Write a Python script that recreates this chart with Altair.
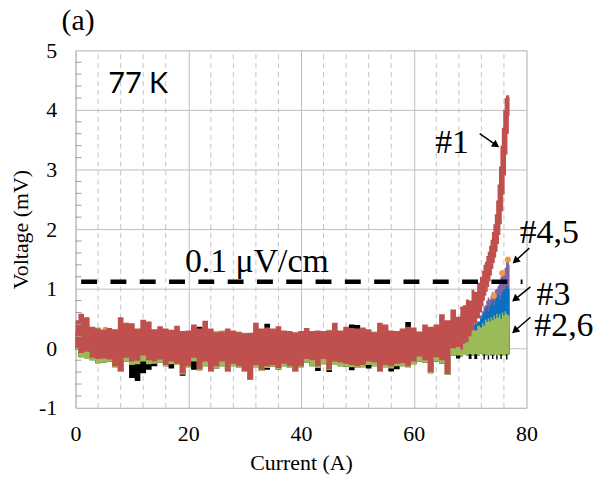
import math
import altair as alt
import pandas as pd

# ---------------- data ----------------
current = [0, 1, 2, 3, 4, 5, 6, 7, 8, 9,
           10, 11, 12, 13, 14, 15, 16, 17, 18, 19,
           20, 21, 22, 23, 24, 25, 26, 27, 28, 29,
           30, 31, 32, 33, 34, 35, 36, 37, 38, 39,
           40, 41, 42, 43, 44, 45, 46, 47, 48, 49,
           50, 51, 52, 53, 54, 55, 56, 57, 58, 59,
           60, 61, 62, 63, 64, 65, 66, 67, 68,
           68.5, 69, 69.5, 70, 70.5, 71, 71.5, 72,
           72.25, 72.5, 72.75, 73, 73.25, 73.5, 73.75, 74, 74.25, 74.5,
           74.75, 75, 75.25, 75.5, 75.75, 76, 76.25, 76.5, 76.75, 77]

red_hi = [0.47, 0.58, 0.52, 0.36, 0.33, 0.31, 0.34, 0.32, 0.52, 0.43,
          0.42, 0.33, 0.48, 0.45, 0.32, 0.37, 0.33, 0.31, 0.38, 0.29,
          0.30, 0.40, 0.33, 0.46, 0.33, 0.27, 0.28, 0.33, 0.30, 0.27,
          0.25, 0.26, 0.43, 0.33, 0.35, 0.33, 0.37, 0.30, 0.29, 0.27,
          0.29, 0.34, 0.29, 0.30, 0.29, 0.30, 0.43, 0.30, 0.36, 0.34,
          0.33, 0.35, 0.32, 0.27, 0.43, 0.40, 0.30, 0.29, 0.33, 0.36,
          0.35, 0.28, 0.40, 0.36, 0.40, 0.57, 0.47, 0.65, 0.53,
          0.70, 0.72, 0.82, 0.80, 0.98, 0.95, 1.10, 1.20,
          1.30, 1.40, 1.45, 1.55, 1.62, 1.72, 1.82, 1.95, 2.08, 2.25,
          2.48, 2.75, 3.05, 3.40, 3.70, 4.00, 4.20, 4.24, 4.25, 4.22]
red_lo = [0.01, -0.08, -0.06, -0.16, -0.18, -0.17, -0.19, -0.30, -0.38, -0.16,
          -0.22, -0.21, -0.12, -0.20, -0.22, -0.19, -0.28, -0.22, -0.26, -0.42,
          -0.30, -0.16, -0.35, -0.22, -0.38, -0.30, -0.22, -0.38, -0.26, -0.30,
          -0.38, -0.52, -0.28, -0.36, -0.30, -0.28, -0.33, -0.26, -0.30, -0.38,
          -0.30, -0.18, -0.20, -0.30, -0.18, -0.35, -0.22, -0.24, -0.26, -0.28,
          -0.30, -0.28, -0.22, -0.24, -0.38, -0.28, -0.30, -0.26, -0.25, -0.30,
          -0.22, -0.14, -0.20, -0.40, -0.15, -0.20, -0.43, 0.00, 0.02,
          -0.02, 0.08, 0.10, 0.20, 0.30, 0.42, 0.50, 0.60,
          0.70, 0.80, 0.88, 0.95, 1.03, 1.12, 1.22, 1.33, 1.43, 1.52,
          1.62, 1.75, 1.90, 2.08, 2.30, 2.58, 2.90, 3.25, 3.60, 3.90]

green_hi = [0.30, 0.45, 0.40, 0.30, 0.35, 0.28, 0.26, 0.28, 0.30, 0.32,
            0.30, 0.28, 0.30, 0.30, 0.28, 0.30, 0.29, 0.28, 0.30, 0.27,
            0.26, 0.30, 0.30, 0.32, 0.30, 0.29, 0.30, 0.28, 0.27, 0.28,
            0.26, 0.24, 0.30, 0.29, 0.30, 0.28, 0.30, 0.27, 0.26, 0.25,
            0.26, 0.28, 0.27, 0.28, 0.27, 0.31, 0.30, 0.28, 0.30, 0.30,
            0.30, 0.30, 0.28, 0.28, 0.30, 0.32, 0.28, 0.27, 0.28, 0.30,
            0.30, 0.26, 0.30, 0.29, 0.30, 0.32, 0.25, 0.20, 0.22,
            0.22, 0.25, 0.22, 0.28, 0.32, 0.30, 0.38, 0.35,
            0.42, 0.38, 0.48, 0.44, 0.50, 0.45, 0.52, 0.47, 0.55, 0.50,
            0.58, 0.52, 0.57, 0.50, 0.60, 0.55, 0.62, 0.58, 0.56, 0.52]
green_lo = [-0.02, -0.15, -0.18, -0.20, -0.25, -0.24, -0.22, -0.32, -0.40, -0.22,
            -0.28, -0.27, -0.22, -0.27, -0.26, -0.24, -0.30, -0.27, -0.28, -0.44,
            -0.32, -0.22, -0.37, -0.30, -0.40, -0.34, -0.30, -0.40, -0.30, -0.33,
            -0.40, -0.53, -0.32, -0.38, -0.33, -0.31, -0.36, -0.30, -0.33, -0.40,
            -0.32, -0.24, -0.30, -0.33, -0.27, -0.37, -0.28, -0.30, -0.31, -0.32,
            -0.33, -0.32, -0.28, -0.30, -0.40, -0.32, -0.34, -0.30, -0.30, -0.32,
            -0.27, -0.22, -0.24, -0.42, -0.22, -0.26, -0.45, -0.12, -0.12,
            -0.14, -0.10, -0.12, -0.10, -0.13, -0.10, -0.12, -0.09,
            -0.12, -0.10, -0.13, -0.11, -0.12, -0.10, -0.13, -0.11, -0.12, -0.10,
            -0.12, -0.11, -0.13, -0.10, -0.12, -0.11, -0.12, -0.10, -0.11, -0.10]

black_hi = [0.25, 0.30, 0.30, 0.25, 0.24, 0.25, 0.24, 0.25, 0.26, 0.27,
            0.26, 0.25, 0.27, 0.26, 0.25, 0.26, 0.25, 0.24, 0.26, 0.25,
            0.24, 0.34, 0.36, 0.27, 0.26, 0.25, 0.26, 0.25, 0.24, 0.25,
            0.24, 0.23, 0.26, 0.27, 0.41, 0.26, 0.27, 0.25, 0.24, 0.24,
            0.25, 0.26, 0.25, 0.26, 0.25, 0.26, 0.27, 0.25, 0.27, 0.40,
            0.39, 0.27, 0.26, 0.25, 0.27, 0.28, 0.26, 0.25, 0.27, 0.44,
            0.27, 0.25, 0.26, 0.27, 0.26, 0.25, 0.22, 0.18, 0.18,
            0.18, 0.20, 0.18, 0.22, 0.22, 0.24, 0.25, 0.26,
            0.30, 0.28, 0.32, 0.30, 0.33, 0.30, 0.32, 0.30, 0.34, 0.30,
            0.33, 0.30, 0.34, 0.30, 0.33, 0.30, 0.32, 0.30, 0.30, 0.28]
black_lo = [-0.02, -0.15, -0.18, -0.20, -0.25, -0.24, -0.22, -0.32, -0.40, -0.22,
            -0.50, -0.55, -0.42, -0.36, -0.30, -0.24, -0.30, -0.34, -0.28, -0.46,
            -0.32, -0.36, -0.37, -0.30, -0.40, -0.34, -0.30, -0.40, -0.30, -0.33,
            -0.40, -0.53, -0.32, -0.38, -0.36, -0.31, -0.36, -0.30, -0.33, -0.40,
            -0.32, -0.24, -0.30, -0.38, -0.27, -0.40, -0.28, -0.30, -0.31, -0.37,
            -0.33, -0.32, -0.34, -0.30, -0.40, -0.32, -0.39, -0.35, -0.30, -0.32,
            -0.27, -0.22, -0.24, -0.42, -0.22, -0.26, -0.45, -0.12, -0.17,
            -0.14, -0.10, -0.12, -0.18, -0.13, -0.18, -0.12, -0.09,
            -0.12, -0.19, -0.13, -0.11, -0.19, -0.10, -0.13, -0.18, -0.12, -0.10,
            -0.19, -0.11, -0.13, -0.18, -0.12, -0.11, -0.12, -0.19, -0.11, -0.10]

current_end = [66, 67, 68, 69, 70, 70.5, 71, 71.5, 72,
               72.25, 72.5, 72.75, 73, 73.25, 73.5, 73.75, 74, 74.25, 74.5,
               74.75, 75, 75.25, 75.5, 75.75, 76, 76.25, 76.5, 76.75, 77]
blue_hi = [0.15, 0.20, 0.25, 0.30, 0.35, 0.38, 0.42, 0.45, 0.50,
           0.55, 0.60, 0.65, 0.70, 0.62, 0.70, 0.75, 0.80, 0.72, 0.80,
           0.85, 0.90, 0.82, 0.88, 0.95, 0.98, 1.00, 1.05, 1.02, 0.98]
purple_hi = [0.10, 0.15, 0.20, 0.25, 0.30, 0.33, 0.38, 0.42, 0.55,
             0.62, 0.70, 0.72, 0.80, 0.85, 0.82, 0.88, 0.95, 0.90, 0.98,
             1.00, 1.05, 1.10, 1.20, 1.22, 1.25, 1.35, 1.45, 1.48, 1.40]

orange_a = [5.3, 74.2, 75.7, 76.7]
orange_v = [0.31, 0.88, 1.26, 1.49]

criterion_a = [1.0]
criterion_a2 = [79.3]
criterion_v = [1.117]

label_text = ["0.1 \u03bcV/cm", "#1", "#4,5", "#3", "#2,6"]
label_a = [19.4, 63.8, 78.8, 81.8, 81.4]
label_v = [1.272, 3.283, 1.767, 0.733, 0.2]

arrow_a = [71.7, 80.5, 80.7, 80.7]
arrow_v = [3.60, 1.68, 1.03, 0.52]
arrow_a2 = [75.2, 77.5, 77.4, 77.4]
arrow_v2 = [3.37, 1.42, 0.78, 0.25]

minor_x = [4, 8, 12, 16, 24, 28, 32, 36, 44, 48, 52, 56, 64, 68, 72, 76]
minor_y = [-0.8, -0.6, -0.4, -0.2, 0.2, 0.4, 0.6, 0.8, 1.2, 1.4, 1.6, 1.8,
           2.2, 2.4, 2.6, 2.8, 3.2, 3.4, 3.6, 3.8, 4.2, 4.4, 4.6, 4.8]

# ---------------- chart ----------------
W, H = 454, 360
XMIN, XMAX, YMIN, YMAX = 0, 80, -1, 5
SERIF = "Liberation Serif"
GRID = "#BDBDBD"

x_scale = alt.Scale(domain=[XMIN, XMAX], nice=False, zero=False)
y_scale = alt.Scale(domain=[YMIN, YMAX], nice=False, zero=False)
x_axis = alt.Axis(values=[0, 20, 40, 60, 80], title="Current (A)", grid=True,
                  gridColor=GRID, gridWidth=1, ticks=False, tickSize=0,
                  domainColor=GRID, labelFont=SERIF, labelFontSize=22,
                  labelColor="black", labelPadding=16, labelFlush=False,
                  titleFont=SERIF, titleFontSize=22, titleFontWeight="normal",
                  titleColor="black", titlePadding=8)
y_axis = alt.Axis(values=[-1, 0, 1, 2, 3, 4, 5], title="Voltage (mV)", grid=True,
                  gridColor=GRID, gridWidth=1, ticks=False, tickSize=0,
                  domainColor=GRID, labelFont=SERIF, labelFontSize=22,
                  labelColor="black", labelPadding=19, labelFlush=False,
                  labelExpr="replace(datum.label, '\u2212', '-')",
                  titleFont=SERIF, titleFontSize=22, titleFontWeight="normal",
                  titleColor="black", titlePadding=6)

X = alt.X("a:Q", scale=x_scale, axis=x_axis)
Y = alt.Y("v:Q", scale=y_scale, axis=y_axis)

# minor dashed vertical grid
minor_grid = alt.Chart(pd.DataFrame({"a": minor_x, "v": [YMIN] * len(minor_x),
                                     "v2": [YMAX] * len(minor_x)})).mark_rule(
    color="#C4C4C4", strokeWidth=1, strokeDash=[5, 4]).encode(x=X, y=Y, y2="v2:Q")

# minor y ticks (inside the plot)
minor_ticks = alt.Chart(pd.DataFrame({"v": minor_y})).mark_rule(
    color="#9E9E9E", strokeWidth=1).encode(y=Y, x=alt.value(0), x2=alt.value(6))


def band(xs, lo, hi, color):
    df = pd.DataFrame({"a": xs, "v": lo, "v2": hi})
    return alt.Chart(df).mark_area(color=color, opacity=1, interpolate="step").encode(
        x=X, y=Y, y2="v2:Q")


def top_band(xs, hi, color):
    df = pd.DataFrame({"a": xs, "v": [0.0] * len(xs), "v2": hi})
    return alt.Chart(df).mark_area(color=color, opacity=1, interpolate="step").encode(
        x=X, y=Y, y2="v2:Q")


black_layer = band(current, black_lo, black_hi, "#000000")
purple_layer = top_band(current_end, purple_hi, "#8064A2")
blue_layer = top_band(current_end, blue_hi, "#0B6FC2")
green_layer = band(current, green_lo, green_hi, "#9BBB59")
red_layer = band(current, red_lo, red_hi, "#C0504D")
orange_layer = alt.Chart(pd.DataFrame({"a": orange_a, "v": orange_v})).mark_circle(
    color="#F79646", opacity=1, size=38).encode(x=X, y=Y)

criterion = alt.Chart(pd.DataFrame({"a": criterion_a, "a2": criterion_a2,
                                    "v": criterion_v})).mark_rule(
    color="black", strokeWidth=4.5, strokeDash=[16, 13.5]).encode(
    x=X, x2="a2:Q", y=Y)

labels = alt.Chart(pd.DataFrame({"a": label_a, "v": label_v, "t": label_text})).mark_text(
    font=SERIF, fontSize=34, align="left", baseline="alphabetic", color="black").encode(
    x=X, y=Y, text="t:N")

temp_label = alt.Chart(pd.DataFrame({"a": [5.81], "v": [4.29], "t": ["77 K"]})).mark_text(
    font="Lato", fontSize=29, align="left", baseline="alphabetic", color="black").encode(
    x=X, y=Y, text="t:N")

panel_label = alt.Chart(pd.DataFrame({"a": [-2.47], "v": [5.34], "t": ["(a)"]})).mark_text(
    font=SERIF, fontSize=30, align="left", baseline="alphabetic", color="black").encode(
    x=X, y=Y, text="t:N")

# arrows: shaft + triangular head at the tip
px_a = W / (XMAX - XMIN)
px_v = H / (YMAX - YMIN)
head_a, head_v, head_ang = [], [], []
for a1, v1, a2, v2 in zip(arrow_a, arrow_v, arrow_a2, arrow_v2):
    dx = (a2 - a1) * px_a
    dy = -(v2 - v1) * px_v
    ang = math.degrees(math.atan2(dy, dx))
    L = math.hypot(dx, dy)
    back = 4.0
    head_a.append(a2 - (dx / L) * back / px_a)
    head_v.append(v2 + (dy / L) * back / px_v)
    head_ang.append(ang % 360)

shafts = alt.Chart(pd.DataFrame({"a": arrow_a, "v": arrow_v, "a2": head_a,
                                 "v2": head_v})).mark_rule(
    color="black", strokeWidth=1.5).encode(x=X, y=Y, x2="a2:Q", y2="v2:Q")
heads = alt.Chart(pd.DataFrame({"a": head_a, "v": head_v, "ang": head_ang})).mark_point(
    shape="triangle-right", filled=True, color="black", opacity=1, size=70).encode(
    x=X, y=Y, angle=alt.Angle("ang:Q", scale=None))

chart = alt.layer(
    minor_grid, black_layer, purple_layer, blue_layer, green_layer, orange_layer,
    red_layer, criterion, minor_ticks, labels, temp_label, panel_label, shafts, heads
).properties(
    width=W, height=H,
    padding={"left": 68, "top": 41, "right": 70, "bottom": 66},
    autosize=alt.AutoSizeParams(type="none"),
).configure_view(stroke=None).configure(background="white")

chart.save("out.html", embed_options={"renderer": "svg", "actions": False})
